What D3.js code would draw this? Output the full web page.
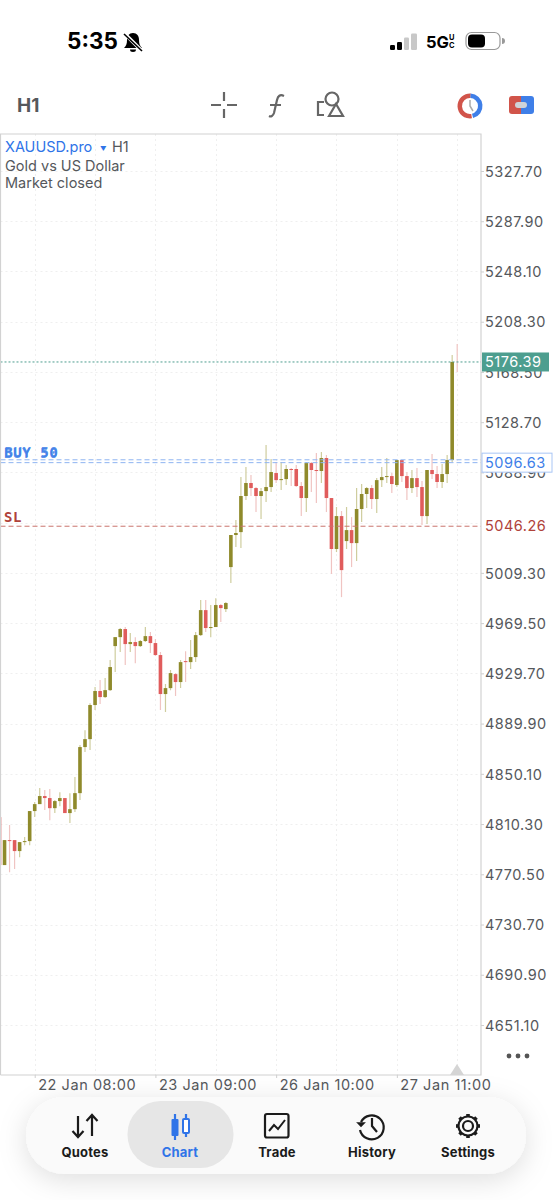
<!DOCTYPE html>
<html><head><meta charset="utf-8">
<script src="https://cdnjs.cloudflare.com/ajax/libs/d3/7.8.5/d3.min.js"></script>
<style>
html,body{margin:0;padding:0;background:#fff;overflow:hidden}
svg{display:block;font-family:Inter,"Noto Sans",sans-serif}
</style></head><body>
<svg id="c" width="553" height="1200"></svg>
<script>
const opens=[4815.8,4777.8,4797.6,4797.6,4788.9,4796.0,4796.8,4820.6,4826.1,4832.5,4830.9,4822.9,4828.5,4830.9,4819.0,4822.1,4834.8,4871.3,4877.6,4904.6,4915.7,4910.9,4916.4,4951.3,4958.4,4964.8,4952.9,4954.5,4951.3,4955.3,4959.2,4953.7,4944.2,4913.3,4918.0,4929.1,4922.8,4939.4,4938.6,4942.6,4960.0,4979.8,4965.6,4966.4,4983.8,4980.6,5013.9,5039.3,5041.6,5070.2,5080.5,5076.5,5070.2,5074.1,5077.3,5088.4,5082.8,5083.6,5091.6,5091.6,5078.1,5068.6,5096.3,5090.8,5090.0,5100.3,5068.6,5028.2,5054.3,5034.5,5043.2,5032.9,5059.9,5071.8,5076.5,5067.8,5082.8,5085.2,5086.0,5078.9,5098.7,5086.0,5076.5,5084.4,5077.3,5054.3,5090.8,5087.6,5081.3,5087.6,5098.7,5176.4];
const highs=[4815.8,4797.6,4809.5,4797.6,4796.0,4800.0,4820.6,4827.7,4838.8,4837.2,4838.0,4829.3,4835.6,4830.9,4834.8,4847.5,4872.9,4884.7,4906.1,4918.8,4924.4,4926.0,4940.2,4958.4,4965.6,4966.4,4961.6,4958.4,4956.1,4966.4,4962.4,4956.9,4946.6,4921.2,4932.3,4929.9,4940.2,4947.3,4956.1,4962.4,4987.8,4987.8,4983.8,4989.3,4984.6,4986.2,5039.3,5051.2,5085.2,5093.1,5086.8,5077.3,5076.5,5110.6,5099.5,5097.1,5097.1,5094.7,5092.4,5094.7,5081.3,5097.1,5097.1,5104.2,5105.0,5102.7,5068.6,5061.5,5058.3,5061.5,5053.5,5076.5,5079.7,5077.3,5078.9,5084.4,5093.1,5100.3,5088.4,5098.7,5098.7,5089.2,5090.8,5092.4,5082.1,5090.8,5103.5,5093.9,5095.5,5102.7,5181.9,5190.6];
const lows=[4777.8,4777.8,4772.2,4774.6,4784.1,4793.6,4793.6,4815.8,4826.1,4821.4,4813.4,4819.0,4824.5,4819.0,4811.1,4819.8,4829.3,4867.3,4868.9,4900.6,4905.4,4910.1,4915.7,4930.7,4946.6,4936.3,4946.6,4937.8,4950.5,4954.5,4945.8,4943.4,4900.6,4899.0,4916.4,4911.7,4918.0,4922.8,4933.1,4938.6,4959.2,4962.4,4958.4,4966.4,4970.3,4978.3,5001.2,5029.8,5029.0,5067.0,5070.2,5057.5,5051.9,5065.4,5073.3,5080.5,5074.9,5078.9,5078.1,5077.3,5054.3,5057.5,5073.3,5064.6,5080.5,5057.5,5008.4,5025.8,4990.1,5028.2,5013.9,5018.7,5049.6,5060.7,5059.9,5056.7,5077.3,5080.5,5072.5,5077.3,5081.3,5067.0,5072.5,5069.4,5047.2,5048.0,5083.6,5076.5,5076.5,5080.5,5097.1,5168.4];
const closes=[4777.8,4797.6,4797.0,4788.9,4796.0,4796.8,4820.6,4826.1,4832.5,4830.9,4822.9,4828.5,4830.9,4819.0,4822.1,4834.8,4871.3,4877.6,4904.6,4915.7,4910.9,4916.4,4934.7,4958.4,4964.8,4952.9,4954.5,4951.3,4955.3,4959.2,4953.7,4944.2,4913.3,4918.0,4929.9,4922.8,4938.6,4938.6,4942.6,4960.0,4979.8,4965.6,4966.4,4983.8,4981.4,4985.4,5039.3,5040.9,5070.2,5080.5,5076.5,5070.2,5074.1,5077.3,5089.2,5082.8,5083.6,5091.6,5090.8,5078.1,5068.6,5096.3,5090.8,5090.0,5100.3,5068.6,5028.2,5054.3,5011.5,5043.2,5032.9,5059.9,5071.8,5076.5,5067.8,5082.8,5085.2,5086.0,5079.7,5098.7,5086.0,5076.5,5084.4,5077.3,5054.3,5090.8,5087.6,5081.3,5087.6,5098.7,5176.4,5176.39];
const gridPrices=[5327.70,5287.90,5248.10,5208.30,5168.50,5128.70,5088.90,5049.10,5009.30,4969.50,4929.70,4889.90,4850.10,4810.30,4770.50,4730.70,4690.90,4651.10];
const priceTicks=[5327.70,5287.90,5248.10,5208.30,5168.50,5128.70,5088.90,5009.30,4969.50,4929.70,4889.90,4850.10,4810.30,4770.50,4730.70,4690.90,4651.10];
const gridIdx=[7,19,31,43,55,67,79,91];
const timeTickIdx=[7,31,55,79];
const timeLabels=["22 Jan 08:00","23 Jan 09:00","26 Jan 10:00","27 Jan 11:00"];
const lastPrice=5176.39, buyPrice=5096.63, buyPrice2=5098.90, slPrice=5046.26;
const navLabels=["Quotes","Chart","Trade","History","Settings"];

const svg=d3.select("#c");
const x=d3.scaleLinear().domain([0,91]).range([-0.5,457.2]);
const y=d3.scaleLinear().domain([5327.7,4651.1]).range([171,1025]);
const L=0.5,R=481,T=134,B=1075;

const defs=svg.append("defs");
defs.append("clipPath").attr("id","plot").append("rect").attr("x",L).attr("y",T).attr("width",R-L).attr("height",B-T);
const f=defs.append("filter").attr("id","sh").attr("x","-15%").attr("y","-50%").attr("width","130%").attr("height","220%");
f.append("feDropShadow").attr("dx",0).attr("dy",6).attr("stdDeviation",14).attr("flood-color","#000").attr("flood-opacity",0.13);

// grid
const plot=svg.append("g").attr("clip-path","url(#plot)");
plot.selectAll(".gh").data(gridPrices).join("line").attr("x1",L).attr("x2",R)
  .attr("y1",d=>Math.round(y(d))+.5).attr("y2",d=>Math.round(y(d))+.5)
  .attr("stroke","#efefef").attr("stroke-dasharray","2 3");
plot.selectAll(".gv").data(gridIdx).join("line").attr("y1",T).attr("y2",B)
  .attr("x1",d=>Math.round(x(d))+.5).attr("x2",d=>Math.round(x(d))+.5)
  .attr("stroke","#efefef").attr("stroke-dasharray","2 3");

// candles
const UP="#8f8a2b",DN="#e05c5c",UPW="#cfcd9e",DNW="#f0c4c2";
const idx=d3.range(opens.length);
const isUp=i=>closes[i]>=opens[i];
plot.selectAll(".w").data(idx).join("line")
  .attr("x1",i=>x(i)).attr("x2",i=>x(i)).attr("y1",i=>y(highs[i])).attr("y2",i=>y(lows[i]))
  .attr("stroke",i=>isUp(i)&&i!==91?UPW:DNW).attr("stroke-width",1.2);
plot.selectAll(".b").data(idx.slice(0,91)).join("rect")
  .attr("x",i=>x(i)-1.8).attr("width",3.6)
  .attr("y",i=>y(Math.max(opens[i],closes[i])))
  .attr("height",i=>Math.max(1,Math.abs(y(opens[i])-y(closes[i]))))
  .attr("fill",i=>isUp(i)?UP:DN);

// price lines
const hline=(p,c,da)=>svg.append("line").attr("x1",L).attr("x2",R).attr("y1",y(p)).attr("y2",y(p))
  .attr("stroke",c).attr("stroke-dasharray",da);
hline(lastPrice,"#4d9e8f","2 2");
hline(buyPrice,"#8fb4f2","5 3");
hline(buyPrice2,"#8fb4f2","5 3");
hline(slPrice,"#c9736c","5 3");

// frame
svg.append("path").attr("d",`M${L},${B}V${T}H${R}V${B}H${L}`).attr("fill","none").attr("stroke","#d2d2d2").attr("stroke-width",1.2);
svg.append("path").attr("d",`M450,${B}L457,1064L464,${B}Z`).attr("fill","#d5d5d5");

// y axis
const yAxis=d3.axisRight(y).tickValues(priceTicks).tickFormat(d3.format(".2f")).tickSize(3).tickPadding(1);
const gy=svg.append("g").attr("transform",`translate(${R},0)`).call(yAxis);
gy.attr("font-family",null).attr("font-size",null);
gy.select(".domain").remove();
gy.selectAll("line").attr("stroke","#cfcfcf");
gy.selectAll("text").attr("fill","#55585c").attr("font-size",14.5).attr("letter-spacing",0.5).attr("dy","0.36em");

// x axis
const xAxis=d3.axisBottom(x).tickValues(timeTickIdx).tickFormat((d,i)=>timeLabels[i]).tickSize(3).tickPadding(3);
const gx=svg.append("g").attr("transform",`translate(0,${B})`).call(xAxis);
gx.attr("font-family",null).attr("font-size",null);
gx.select(".domain").remove();
gx.selectAll("line").attr("stroke","#cfcfcf");
gx.selectAll("text").attr("text-anchor","start").attr("dx",3).attr("y",10).attr("dy","0")
  .attr("fill","#55585c").attr("font-size",14.5).attr("letter-spacing",0.55).attr("transform","translate(0,5)");

// tags
const tag=(p,txt,fill,stroke,col,w)=>{
  svg.append("rect").attr("x",482).attr("y",y(p)-9.5).attr("width",w).attr("height",19).attr("fill",fill).attr("stroke",stroke||"none");
  svg.append("text").attr("x",485).attr("y",y(p)+5).attr("fill",col).attr("font-size",14.5).attr("letter-spacing",0.5).text(txt);
};
tag(lastPrice,"5176.39","#4d9e8f",null,"#fff",67);
tag(buyPrice,"5096.63","#fff","#a9c6f5","#3f7fe8",70);
tag(slPrice,"5046.26","#fff",null,"#b0423a",70);

// order labels
[[4,0],[4.4,-1.2]].forEach(o=>svg.append("text").attr("x",o[0]).attr("y",458+o[1]).attr("fill","#3f7fe8").style("font-family","'DejaVu Sans Mono'").attr("font-size",14).attr("font-weight",700).attr("letter-spacing",0.6).attr("fill-opacity",.85).text("BUY 50"));
svg.append("text").attr("x",4).attr("y",522).attr("fill","#b0423a").style("font-family","'DejaVu Sans Mono'").attr("font-size",14).attr("font-weight",700).attr("letter-spacing",0.6).text("SL");

// chart legend
const lg=svg.append("g").attr("font-size",14.5);
lg.append("text").attr("x",5).attr("y",152).attr("fill","#2f74e8").text("XAUUSD.pro");
lg.append("text").attr("x",100).attr("y",150.5).attr("fill","#2f74e8").attr("font-size",6.5).text("▼");
lg.append("text").attr("x",112).attr("y",152).attr("fill","#55585c").text("H1");
lg.append("text").attr("x",5).attr("y",171).attr("fill","#55585c").text("Gold vs US Dollar");
lg.append("text").attr("x",5).attr("y",188).attr("fill","#55585c").text("Market closed");

// status bar
svg.append("text").attr("x",67).attr("y",49).attr("font-size",22.5).attr("font-weight",700).attr("fill","#000").text("5:35");
const bell=svg.append("g").attr("transform","translate(124,33)");
bell.append("path").attr("d","M9,0c-4,0-6,3-6,7c0,4-1,6-3,8h18c-2-2-3-4-3-8c0-4-2-7-6-7zM6,16.5a3,2.5 0 0 0 6,0z").attr("fill","#000");
bell.append("line").attr("x1",0).attr("y1",0).attr("x2",18).attr("y2",18).attr("stroke","#fff").attr("stroke-width",3.5);
bell.append("line").attr("x1",0).attr("y1",1).attr("x2",18).attr("y2",18).attr("stroke","#000").attr("stroke-width",1.6);
[[390,45,5,"#000"],[397,42,5,"#000"],[404,37.5,5,"#c8c8c8"],[411,33.5,6,"#c8c8c8"]].forEach(b=>
  svg.append("rect").attr("x",b[0]).attr("y",b[1]).attr("width",b[2]).attr("height",50-b[1]).attr("rx",1.2).attr("fill",b[3]));
svg.append("text").attr("x",426).attr("y",48).attr("font-size",16.5).attr("font-weight",700).attr("fill","#000").text("5G");
svg.append("text").attr("x",449).attr("y",40).attr("font-size",7.5).attr("font-weight",700).attr("fill","#000").text("U");
svg.append("text").attr("x",449).attr("y",48).attr("font-size",7.5).attr("font-weight",700).attr("fill","#000").text("C");
svg.append("rect").attr("x",466).attr("y",32.5).attr("width",34).attr("height",17).attr("rx",5.5).attr("fill","none").attr("stroke","#999").attr("stroke-width",1.2);
svg.append("rect").attr("x",468).attr("y",34.5).attr("width",17).attr("height",13).attr("rx",4).attr("fill","#000");
svg.append("path").attr("d","M502,38v6a3,3 0 0 0 0,-6").attr("fill","#999");

// toolbar
svg.append("text").attr("x",17).attr("y",112).attr("font-size",19).attr("font-weight",700).attr("fill","#55585c").text("H1");
const ic="#666";
svg.append("path").attr("d","M211,105h10M227,105h10M224,92v9M224,109v9").attr("stroke",ic).attr("stroke-width",2.2).attr("fill","none");
svg.append("path").attr("d","M284,96c-4,-2 -6,0 -7,4l-3,13c-1,3 -3,4 -5,3M270,105h11").attr("stroke",ic).attr("stroke-width",2.2).attr("fill","none");
svg.append("path").attr("d","M324,102h-6v13h6").attr("stroke",ic).attr("stroke-width",2.2).attr("fill","none");
svg.append("circle").attr("cx",332).attr("cy",99).attr("r",6.5).attr("fill","none").attr("stroke",ic).attr("stroke-width",2.2);
svg.append("path").attr("d","M329,116l7,-12l7,12z").attr("fill","#fff").attr("stroke",ic).attr("stroke-width",2.2);
svg.append("path").attr("d",d3.arc()({innerRadius:8,outerRadius:12.5,startAngle:Math.PI*0.95,endAngle:Math.PI*2.02})).attr("transform","translate(470,106)").attr("fill","#d1544a");
svg.append("path").attr("d",d3.arc()({innerRadius:8,outerRadius:12.5,startAngle:0.05,endAngle:Math.PI*0.92})).attr("transform","translate(470,106)").attr("fill","#3f7fe8");
svg.append("path").attr("d","M470,100v6l3,5").attr("stroke","#aaa").attr("stroke-width",1.5).attr("fill","none");
svg.append("path").attr("d","M521,96h-9a3,3 0 0 0 -3,3v12a3,3 0 0 0 3,3h9z").attr("fill","#d1544a");
svg.append("path").attr("d","M521,96h10a3,3 0 0 1 3,3v12a3,3 0 0 1 -3,3h-10z").attr("fill","#3f7fe8");
svg.append("rect").attr("x",515).attr("y",102).attr("width",12).attr("height",6).attr("rx",3).attr("fill","#cfd3d8");

// more dots
[509,518,527].forEach(cx=>svg.append("circle").attr("cx",cx).attr("cy",1056).attr("r",2.4).attr("fill","#555"));

// bottom nav
svg.append("rect").attr("x",26).attr("y",1097).attr("width",500).attr("height",77).attr("rx",38).attr("fill","#fafafa").attr("filter","url(#sh)");
svg.append("rect").attr("x",127.5).attr("y",1101).attr("width",106).attr("height",67).attr("rx",33).attr("fill","#e6e6e6");
const navX=[85,180,277,372,468];
navLabels.forEach((t,i)=>svg.append("text").attr("x",navX[i]).attr("y",1157).attr("text-anchor","middle").attr("font-size",13).attr("font-weight",700)
  .attr("letter-spacing",.2).attr("fill",i===1?"#2f74e8":"#1b1b1b").text(t));
const k="#1b1b1b";
svg.append("path").attr("d","M78,1116v20M72.5,1131l5.5,6l5.5,-6M92,1136v-20M86.5,1121l5.5,-6l5.5,6").attr("stroke",k).attr("stroke-width",2.2).attr("fill","none");
svg.append("path").attr("d","M175,1114v5M175,1136v4M186,1114v5M186,1133v4").attr("stroke","#2f74e8").attr("stroke-width",2.2);
svg.append("rect").attr("x",171.5).attr("y",1119).attr("width",7).attr("height",17).attr("rx",1).attr("fill","#2f74e8");
svg.append("rect").attr("x",183).attr("y",1119).attr("width",6).attr("height",14).attr("rx",1).attr("fill","#fff").attr("stroke","#2f74e8").attr("stroke-width",2);
svg.append("rect").attr("x",265).attr("y",1114).attr("width",23.5).attr("height",23.5).attr("rx",2).attr("fill","none").attr("stroke",k).attr("stroke-width",2.2);
svg.append("path").attr("d","M269,1131l5,-6l4,4l7,-9").attr("stroke",k).attr("stroke-width",2).attr("fill","none");
svg.append("path").attr("d","M361,1122a12,12 0 1 1 -1,8").attr("stroke",k).attr("stroke-width",2.2).attr("fill","none");
svg.append("path").attr("d","M358,1123l3,3l3,-3z").attr("stroke",k).attr("stroke-width",1.6).attr("fill",k);
svg.append("path").attr("d","M372,1118v8l5,6").attr("stroke",k).attr("stroke-width",2.2).attr("fill","none");
svg.append("circle").attr("cx",468).attr("cy",1126).attr("r",5).attr("fill","none").attr("stroke",k).attr("stroke-width",2.2);
svg.append("circle").attr("cx",468).attr("cy",1126).attr("r",9.5).attr("fill","none").attr("stroke",k).attr("stroke-width",2.2);
d3.range(8).forEach(i=>{const a=i*Math.PI/4;svg.append("line").attr("x1",468+9.5*Math.cos(a)).attr("y1",1126+9.5*Math.sin(a)).attr("x2",468+12*Math.cos(a)).attr("y2",1126+12*Math.sin(a)).attr("stroke",k).attr("stroke-width",3.6);});
</script></body></html>
